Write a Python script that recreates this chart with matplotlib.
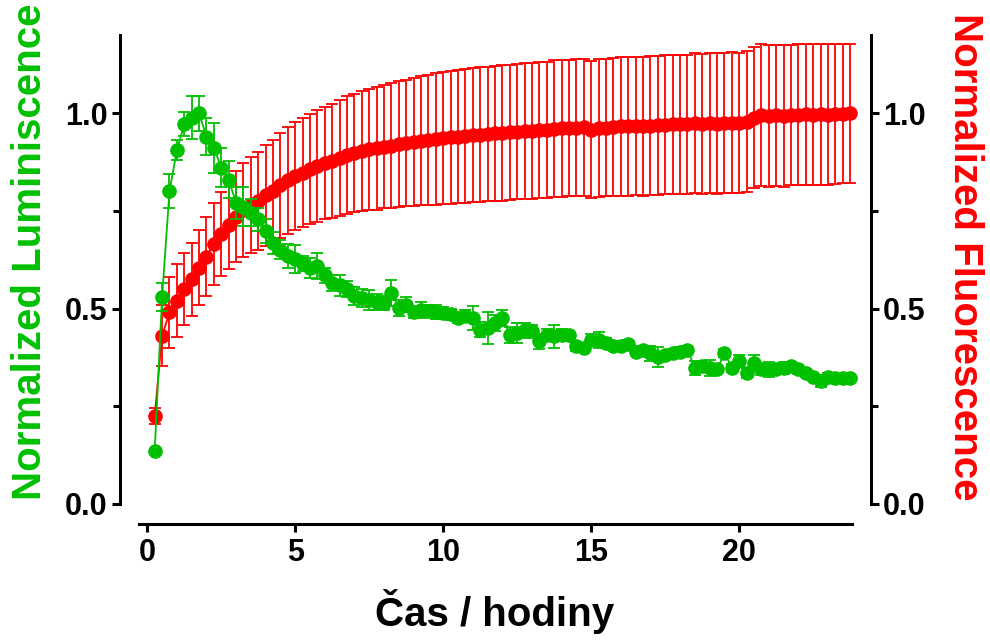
import matplotlib
matplotlib.use("Agg")
import matplotlib.pyplot as plt
from matplotlib.ticker import FixedLocator

# ---------------- data ----------------
time_h = [0.25, 0.5, 0.75, 1.0, 1.25, 1.5, 1.75, 2.0, 2.25, 2.5,
          2.75, 3.0, 3.25, 3.5, 3.75, 4.0, 4.25, 4.5, 4.75, 5.0,
          5.25, 5.5, 5.75, 6.0, 6.25, 6.5, 6.75, 7.0, 7.25, 7.5,
          7.75, 8.0, 8.25, 8.5, 8.75, 9.0, 9.25, 9.5, 9.75, 10.0,
          10.25, 10.5, 10.75, 11.0, 11.25, 11.5, 11.75, 12.0, 12.25, 12.5,
          12.75, 13.0, 13.25, 13.5, 13.75, 14.0, 14.25, 14.5, 14.75, 15.0,
          15.25, 15.5, 15.75, 16.0, 16.25, 16.5, 16.75, 17.0, 17.25, 17.5,
          17.75, 18.0, 18.25, 18.5, 18.75, 19.0, 19.25, 19.5, 19.75, 20.0,
          20.25, 20.5, 20.75, 21.0, 21.25, 21.5, 21.75, 22.0, 22.25, 22.5,
          22.75, 23.0, 23.25, 23.5, 23.75]

luminiscence = [0.136, 0.53, 0.80, 0.905, 0.972, 0.988, 1.0, 0.94, 0.912, 0.86,
                0.83, 0.77, 0.76, 0.745, 0.728, 0.698, 0.668, 0.651, 0.634, 0.626,
                0.615, 0.604, 0.609, 0.585, 0.566, 0.559, 0.55, 0.532, 0.527, 0.522,
                0.516, 0.513, 0.54, 0.502, 0.51, 0.49, 0.497, 0.493, 0.49, 0.488,
                0.485, 0.476, 0.482, 0.476, 0.446, 0.45, 0.463, 0.476, 0.433, 0.438,
                0.444, 0.442, 0.416, 0.433, 0.429, 0.433, 0.433, 0.403, 0.399, 0.42,
                0.42, 0.412, 0.405, 0.403, 0.408, 0.39, 0.395, 0.385, 0.376, 0.38,
                0.386, 0.39, 0.395, 0.348, 0.352, 0.348, 0.344, 0.386, 0.348, 0.365,
                0.335, 0.361, 0.344, 0.344, 0.344, 0.348, 0.352, 0.344, 0.335, 0.326,
                0.314, 0.326, 0.322, 0.322, 0.322]

luminiscence_err = [0.005, 0.036, 0.043, 0.026, 0.03, 0.055, 0.045, 0.047, 0.064, 0.05,
                    0.047, 0.04, 0.05, 0.035, 0.03, 0.03, 0.028, 0.025, 0.03, 0.036,
                    0.02, 0.025, 0.034, 0.02, 0.02, 0.026, 0.02, 0.023, 0.022, 0.026,
                    0.02, 0.018, 0.034, 0.02, 0.02, 0.015, 0.021, 0.015, 0.018, 0.015,
                    0.015, 0.012, 0.015, 0.03, 0.02, 0.04, 0.02, 0.021, 0.02, 0.025,
                    0.02, 0.015, 0.02, 0.015, 0.03, 0.015, 0.01, 0.012, 0.01, 0.015,
                    0.02, 0.012, 0.01, 0.01, 0.012, 0.01, 0.01, 0.02, 0.026, 0.01,
                    0.01, 0.012, 0.01, 0.018, 0.012, 0.02, 0.01, 0.01, 0.01, 0.015,
                    0.012, 0.02, 0.015, 0.02, 0.01, 0.015, 0.01, 0.012, 0.01, 0.01,
                    0.015, 0.01, 0.008, 0.008, 0.008]

fluorescence = [0.225, 0.43, 0.49, 0.52, 0.55, 0.575, 0.605, 0.633, 0.665, 0.69,
                0.713, 0.735, 0.752, 0.765, 0.775, 0.79, 0.80, 0.815, 0.828, 0.84,
                0.848, 0.857, 0.865, 0.872, 0.878, 0.886, 0.893, 0.898, 0.903, 0.907,
                0.91, 0.914, 0.917, 0.92, 0.924, 0.927, 0.929, 0.931, 0.934, 0.936,
                0.938, 0.94, 0.942, 0.944, 0.945, 0.946, 0.948, 0.949, 0.951, 0.953,
                0.954, 0.955, 0.957, 0.958, 0.96, 0.961, 0.962, 0.963, 0.964, 0.958,
                0.962, 0.963, 0.965, 0.966, 0.966, 0.967, 0.966, 0.968, 0.969, 0.97,
                0.972, 0.971, 0.972, 0.974, 0.973, 0.974, 0.973, 0.975, 0.976, 0.975,
                0.978, 0.988, 0.995, 0.993, 0.994, 0.993, 0.995, 0.996, 0.997, 0.996,
                0.997, 0.996, 0.998, 0.999, 1.0]

fluorescence_err = [0.02, 0.078, 0.09, 0.093, 0.092, 0.093, 0.097, 0.1, 0.105, 0.108,
                    0.112, 0.116, 0.12, 0.123, 0.126, 0.129, 0.131, 0.134, 0.136, 0.138,
                    0.14, 0.141, 0.143, 0.144, 0.146, 0.148, 0.15, 0.152, 0.154, 0.155,
                    0.157, 0.158, 0.159, 0.161, 0.162, 0.164, 0.165, 0.166, 0.168, 0.169,
                    0.17, 0.17, 0.171, 0.171, 0.172, 0.172, 0.172, 0.173, 0.173, 0.173,
                    0.174, 0.174, 0.174, 0.174, 0.175, 0.175, 0.175, 0.175, 0.175, 0.176,
                    0.176, 0.176, 0.176, 0.177, 0.177, 0.177, 0.177, 0.178, 0.178, 0.178,
                    0.178, 0.178, 0.178, 0.179, 0.179, 0.179, 0.18, 0.18, 0.18, 0.18,
                    0.18, 0.18, 0.181, 0.181, 0.181, 0.181, 0.18, 0.18, 0.18, 0.18,
                    0.18, 0.18, 0.179, 0.179, 0.178]

x_ticks = [0, 5, 10, 15, 20]
y_ticks = [0.0, 0.5, 1.0]
y_minor_ticks = [0.25, 0.75]
y_ticklabels = ["0.0", "0.5", "1.0"]
x_label = "Čas / hodiny"
left_label = "Normalized Luminiscence"
right_label = "Normalized Fluorescence"

GREEN = "#00C000"
RED = "#FF0000"

plt.rcParams["font.family"] = ["Liberation Sans", "DejaVu Sans"]
plt.rcParams["font.weight"] = "bold"

fig = plt.figure(figsize=(9.9, 6.43), dpi=100)
ax = fig.add_axes([0.1212, 0.1851, 0.7583, 0.7605])

ax.errorbar(time_h, fluorescence, yerr=fluorescence_err, color=RED, ecolor=RED,
            marker="o", markersize=9.5, linewidth=1.3, elinewidth=1.3,
            capsize=4.0, capthick=1.3, zorder=2)
ax.errorbar(time_h, luminiscence, yerr=luminiscence_err, color=GREEN, ecolor=GREEN,
            marker="o", markersize=9.5, linewidth=1.3, elinewidth=1.3,
            capsize=4.0, capthick=1.3, zorder=3)

ax.set_xlim(-0.922, 24.44)
ax.set_ylim(-0.0513, 1.2)

ax.spines["top"].set_visible(False)
for s in ("left", "right", "bottom"):
    ax.spines[s].set_linewidth(2.2)
    ax.spines[s].set_color("black")
ax.spines["left"].set_bounds(0, 1.2)
ax.spines["right"].set_bounds(0, 1.2)
ax.spines["bottom"].set_bounds(-0.27, 23.8)

ax.xaxis.set_major_locator(FixedLocator(x_ticks))
ax.set_xticklabels([str(v) for v in x_ticks])
ax.yaxis.set_major_locator(FixedLocator(y_ticks))
ax.yaxis.set_minor_locator(FixedLocator(y_minor_ticks))
ax.set_yticklabels(y_ticklabels)

ax.tick_params(axis="both", which="major", direction="out", length=6, width=2.2,
               labelsize=22, pad=3, color="black")
ax.tick_params(axis="y", which="minor", direction="out", length=5, width=2.2)
ax.tick_params(axis="y", which="both", left=True, right=True,
               labelleft=True, labelright=True)
ax.tick_params(axis="x", pad=4)
for lab in ax.get_xticklabels() + ax.get_yticklabels():
    lab.set_fontweight("bold")

fig.text(495 / 990, 1 - 612 / 643, x_label, fontsize=29, fontweight="bold",
         ha="center", va="center")
fig.text(30 / 990, 1 - 252 / 643, left_label, rotation=90, fontsize=29,
         fontweight="bold", color=GREEN, ha="center", va="center")
fig.text(965 / 990, 1 - 257 / 643, right_label, rotation=-90, fontsize=29,
         fontweight="bold", color=RED, ha="center", va="center")

fig.savefig("out.png", dpi=100)
